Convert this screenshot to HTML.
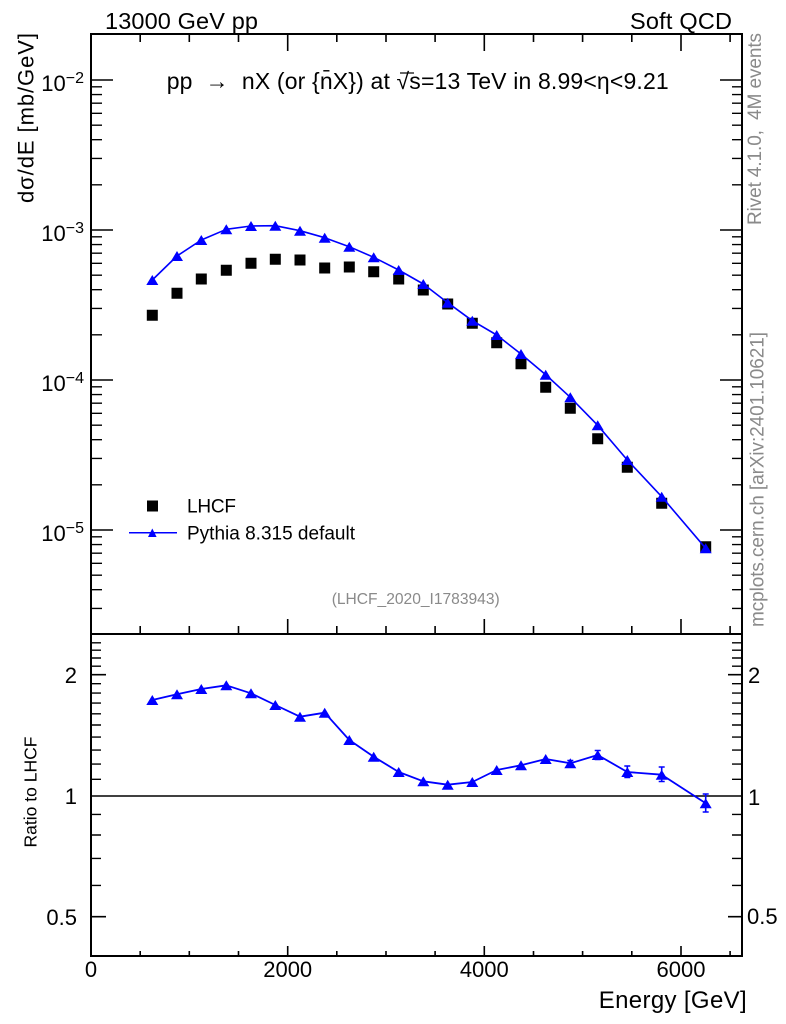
<!DOCTYPE html>
<html><head><meta charset="utf-8"><style>
html,body{margin:0;padding:0;background:#fff;}
svg{display:block;font-family:"Liberation Sans",Arial,Helvetica,sans-serif;}
</style></head><body>
<svg width="786" height="1024" viewBox="0 0 786 1024" xmlns="http://www.w3.org/2000/svg">
<rect x="0" y="0" width="786" height="1024" fill="#fff"/>

<!-- top texts -->
<text x="105" y="29" font-size="23.5" textLength="153">13000 GeV pp</text>
<text x="630" y="29" font-size="23.5" textLength="102">Soft QCD</text>
<text x="166.7" y="89" font-size="23" textLength="502">pp&#160;&#160;→&#160;&#160;nX (or {n̄X}) at √s=13 TeV in 8.99&lt;η&lt;9.21</text>
<line x1="400" y1="73" x2="414" y2="73" stroke="#000" stroke-width="1.2"/>

<!-- y axis label -->
<text transform="translate(33.5,118) rotate(-90)" font-size="22" text-anchor="middle" textLength="170">dσ/dE [mb/GeV]</text>
<text transform="translate(36.5,792) rotate(-90)" font-size="17.5" text-anchor="middle" textLength="111">Ratio to LHCF</text>

<!-- right side gray texts -->
<text transform="translate(761,225) rotate(-90)" font-size="19" fill="#8a8a8a" textLength="192">Rivet 4.1.0,&#160;&#160;4M events</text>
<text transform="translate(763.5,627) rotate(-90)" font-size="19" fill="#8a8a8a" textLength="295">mcplots.cern.ch [arXiv:2401.10621]</text>

<!-- frames -->
<rect x="91" y="34" width="651" height="600" fill="none" stroke="#000" stroke-width="2"/>
<rect x="91" y="634" width="651" height="322" fill="none" stroke="#000" stroke-width="2"/>

<!-- x ticks -->
<path stroke="#000" stroke-width="1.6" fill="none" d="
M287.7,34v17M484.3,34v17M681,34v17
M140.2,34v8M189.3,34v8M238.5,34v8M336.8,34v8M386,34v8M435.1,34v8M533.5,34v8M582.6,34v8M631.8,34v8M730.1,34v8
M287.7,634v-15M484.3,634v-15M681,634v-15
M140.2,634v-8M189.3,634v-8M238.5,634v-8M336.8,634v-8M386,634v-8M435.1,634v-8M533.5,634v-8M582.6,634v-8M631.8,634v-8M730.1,634v-8
M287.7,956v-10M484.3,956v-10M681,956v-10
M140.2,956v-5M189.3,956v-5M238.5,956v-5M336.8,956v-5M386,956v-5M435.1,956v-5M533.5,956v-5M582.6,956v-5M631.8,956v-5M730.1,956v-5
"/>

<!-- main y ticks -->
<path stroke="#000" stroke-width="1.6" fill="none" d="
M91,80h22M91,230h22M91,380h22M91,530h22
M742,80h-22M742,230h-22M742,380h-22M742,530h-22
"/>
<path stroke="#000" stroke-width="1.4" fill="none" d="
M91,184.85h11M91,158.43h11M91,139.69h11M91,125.15h11M91,113.28h11M91,103.23h11M91,94.54h11M91,86.86h11
M91,334.85h11M91,308.43h11M91,289.69h11M91,275.15h11M91,263.28h11M91,253.23h11M91,244.54h11M91,236.86h11
M91,484.85h11M91,458.43h11M91,439.69h11M91,425.15h11M91,413.28h11M91,403.23h11M91,394.54h11M91,386.86h11
M91,608.43h11M91,589.69h11M91,575.15h11M91,563.28h11M91,553.23h11M91,544.54h11M91,536.86h11
M742,184.85h-10M742,158.43h-10M742,139.69h-10M742,125.15h-10M742,113.28h-10M742,103.23h-10M742,94.54h-10M742,86.86h-10
M742,334.85h-10M742,308.43h-10M742,289.69h-10M742,275.15h-10M742,263.28h-10M742,253.23h-10M742,244.54h-10M742,236.86h-10
M742,484.85h-10M742,458.43h-10M742,439.69h-10M742,425.15h-10M742,413.28h-10M742,403.23h-10M742,394.54h-10M742,386.86h-10
M742,608.43h-10M742,589.69h-10M742,575.15h-10M742,563.28h-10M742,553.23h-10M742,544.54h-10M742,536.86h-10
"/>

<!-- ratio y ticks -->
<path stroke="#000" stroke-width="1.6" fill="none" d="
M91,674.7h15M91,916.65h15M742,674.7h-14M742,916.65h-14
"/>
<path stroke="#000" stroke-width="1.4" fill="none" d="
M91,885.4h10M91,858.4h10M91,835h10M91,814.4h10M91,779.3h10M91,764.1h10M91,750.1h10M91,737.1h10M91,725h10M91,713.8h10M91,703.1h10M91,693.1h10M91,683.7h10M91,666.2h10M91,658h10M91,650.2h10M91,642.8h10
M742,885.4h-10M742,858.4h-10M742,835h-10M742,814.4h-10M742,779.3h-10M742,764.1h-10M742,750.1h-10M742,737.1h-10M742,725h-10M742,713.8h-10M742,703.1h-10M742,693.1h-10M742,683.7h-10M742,666.2h-10M742,658h-10M742,650.2h-10M742,642.8h-10
"/>
<line x1="91" y1="796" x2="742" y2="796" stroke="#000" stroke-width="1.6"/>

<!-- main y labels -->
<g font-size="22" text-anchor="end">
<text x="84" y="91">10<tspan dy="-8" font-size="16">−2</tspan></text>
<text x="84" y="241">10<tspan dy="-8" font-size="16">−3</tspan></text>
<text x="84" y="391">10<tspan dy="-8" font-size="16">−4</tspan></text>
<text x="84" y="541">10<tspan dy="-8" font-size="16">−5</tspan></text>
</g>

<!-- ratio labels -->
<g font-size="22">
<text x="77" y="683" text-anchor="end">2</text>
<text x="77" y="804" text-anchor="end">1</text>
<text x="77" y="925" text-anchor="end">0.5</text>
<text x="748" y="683">2</text>
<text x="748" y="805">1</text>
<text x="747" y="924">0.5</text>
</g>

<!-- x labels -->
<g font-size="22" text-anchor="middle">
<text x="91" y="977">0</text>
<text x="287.7" y="977">2000</text>
<text x="484.3" y="977">4000</text>
<text x="681" y="977">6000</text>
</g>
<text x="746.7" y="1008" font-size="24" text-anchor="end" textLength="148">Energy [GeV]</text>

<!-- reference label -->
<text x="331.7" y="604" font-size="15.6" fill="#8a8a8a" textLength="168">(LHCF_2020_I1783943)</text>

<!-- legend -->
<rect x="147" y="500.5" width="11" height="11" fill="#000"/>
<text x="187" y="512.5" font-size="19" textLength="49">LHCF</text>
<line x1="129" y1="532.7" x2="177" y2="532.7" stroke="#0000ff" stroke-width="1.5"/>
<path fill="#0000ff" d="M148,537h8.6l-4.3,-8.5z"/>
<text x="187" y="539.5" font-size="19" textLength="168">Pythia 8.315 default</text>

<!-- data squares -->
<path fill="#000" d="
M146.8,309.8h11v11h-11z
M171.5,287.8h11v11h-11z
M195.8,273.5h11v11h-11z
M220.8,264.8h11v11h-11z
M245.5,257.8h11v11h-11z
M269.8,253.8h11v11h-11z
M294.5,254.5h11v11h-11z
M319.2,262.5h11v11h-11z
M343.8,261.5h11v11h-11z
M368.2,266.2h11v11h-11z
M393.2,273.5h11v11h-11z
M417.8,284.5h11v11h-11z
M442.2,298.5h11v11h-11z
M466.8,317.8h11v11h-11z
M491.2,337.2h11v11h-11z
M515.5,358.2h11v11h-11z
M540.2,381.8h11v11h-11z
M564.8,402.8h11v11h-11z
M592.2,433.2h11v11h-11z
M621.8,461.8h11v11h-11z
M656.2,497.8h11v11h-11z
M700.2,541.2h11v11h-11z
"/>

<!-- MC line -->
<polyline fill="none" stroke="#0000ff" stroke-width="1.6" stroke-linejoin="round" points="152.3,280 177,256 201.3,240 226.3,229.3 251,226 275.3,225.7 300,230.7 324.7,237.7 349.3,246.7 373.7,257.3 398.7,270 423.3,284 447.7,302.7 472.3,320.7 496.7,335 521,354 545.7,374.7 570.3,397.3 597.7,425.3 627.3,460 661.7,496.7 705.7,548.3"/>
<path fill="#0000ff" d="
M146.3,285h12l-6,-10z
M171,261h12l-6,-10z
M195.3,245h12l-6,-10z
M220.3,234.3h12l-6,-10z
M245,231h12l-6,-10z
M269.3,230.7h12l-6,-10z
M294,235.7h12l-6,-10z
M318.7,242.7h12l-6,-10z
M343.3,251.7h12l-6,-10z
M367.7,262.3h12l-6,-10z
M392.7,275h12l-6,-10z
M417.3,289h12l-6,-10z
M441.7,307.7h12l-6,-10z
M466.3,325.7h12l-6,-10z
M490.7,340h12l-6,-10z
M515,359h12l-6,-10z
M539.7,379.7h12l-6,-10z
M564.3,402.3h12l-6,-10z
M591.7,430.3h12l-6,-10z
M621.3,465h12l-6,-10z
M655.7,501.7h12l-6,-10z
M699.7,553.3h12l-6,-10z
"/>

<!-- ratio -->
<polyline fill="none" stroke="#0000ff" stroke-width="1.8" stroke-linejoin="round" points="152.3,700 177,694.3 201.3,689 226.3,685.3 251,693.3 275.3,705 300,716.7 324.7,712.7 349.3,740 373.7,756.7 398.7,772 423.3,781.3 447.7,784.7 472.3,782 496.7,770 521,765.3 545.7,759 570.3,763.3 597.7,755 627.3,772 661.7,774.7 705.7,803.3"/>
<path stroke="#0000ff" stroke-width="1.6" fill="none" d="
M570.3,760.5v5.5M567.3,760.5h6M567.3,766h6
M597.7,750.5v9M594.7,750.5h6M594.7,759.5h6
M627.3,766v11.5M624.3,766h6M624.3,777.5h6
M661.7,767v14.5M658.7,767h6M658.7,781.5h6
M705.7,794v18M702.7,794h6M702.7,812h6
"/>
<path fill="#0000ff" d="
M146.3,705h12l-6,-10z
M171,699.3h12l-6,-10z
M195.3,694h12l-6,-10z
M220.3,690.3h12l-6,-10z
M245,698.3h12l-6,-10z
M269.3,710h12l-6,-10z
M294,721.7h12l-6,-10z
M318.7,717.7h12l-6,-10z
M343.3,745h12l-6,-10z
M367.7,761.7h12l-6,-10z
M392.7,777h12l-6,-10z
M417.3,786.3h12l-6,-10z
M441.7,789.7h12l-6,-10z
M466.3,787h12l-6,-10z
M490.7,775h12l-6,-10z
M515,770.3h12l-6,-10z
M539.7,764h12l-6,-10z
M564.3,768.3h12l-6,-10z
M591.7,760h12l-6,-10z
M621.3,777h12l-6,-10z
M655.7,779.7h12l-6,-10z
M699.7,808.3h12l-6,-10z
"/>
</svg>
</body></html>
